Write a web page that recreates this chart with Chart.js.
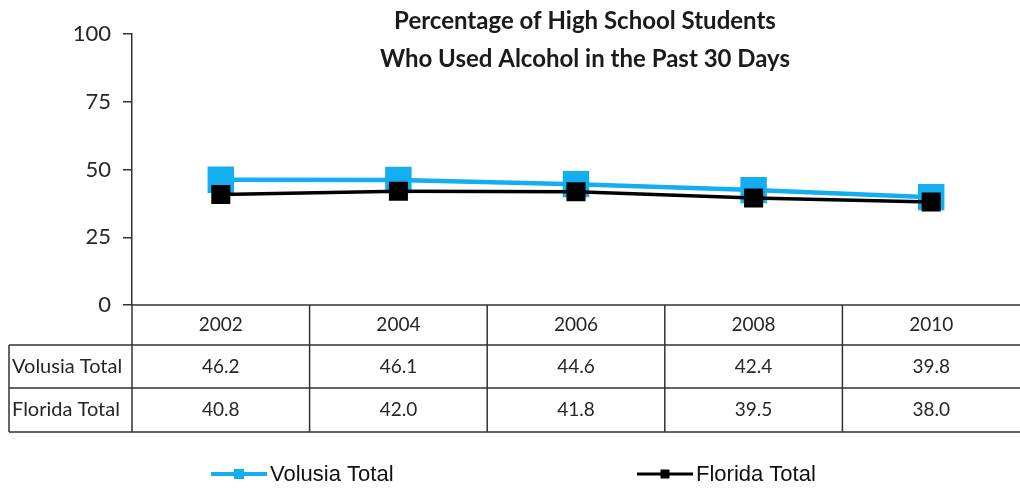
<!DOCTYPE html>
<html>
<head>
<meta charset="utf-8">
<script src="https://cdn.jsdelivr.net/npm/chart.js@4.4.1/dist/chart.umd.min.js"></script>
<style>
  html, body { margin: 0; padding: 0; background: #fff; overflow: hidden; }
  #wrap { width: 1020px; height: 491px; }
</style>
</head>
<body>
<div id="wrap"><canvas id="alcohol"></canvas></div>
<script>
// chart data
var years = ["2002", "2004", "2006", "2008", "2010"];
var volusia = [46.2, 46.1, 44.6, 42.4, 39.8];
var florida = [40.8, 42.0, 41.8, 39.5, 38.0];
var seriesNames = ["Volusia Total", "Florida Total"];
var yTicks = [0, 25, 50, 75, 100];

var blue = "#12aef0";
var black = "#000000";
var lineCol = "#333333";
var textCol = "#262626";
var tableFont = "Lato, 'Open Sans', sans-serif";
var legendFont = "'Liberation Sans Narrow', 'Liberation Sans', Arial, sans-serif";

// draws the title, the data table under the axis and the legend
var tablePlugin = {
    id: "tablePlugin",
    afterDraw: function(chart)
    {
        var ctx = chart.ctx;
        var x = chart.scales.x;
        var area = chart.chartArea;
        var top = area.bottom;
        var rows = [top, top + 40, top + 83, top + 127];
        var labelLeft = 9;
        var right = chart.width;

        ctx.save();

        // title
        ctx.fillStyle = "#1a1a1a";
        ctx.font = "bold 24px " + tableFont;
        ctx.textAlign = "center";
        ctx.textBaseline = "middle";
        ctx.fillText("Percentage of High School Students", 585, 21);
        ctx.fillText("Who Used Alcohol in the Past 30 Days", 585, 59);

        // table lines
        ctx.strokeStyle = lineCol;
        ctx.lineWidth = 1.5;
        ctx.beginPath();
        ctx.moveTo(area.left, rows[0]); ctx.lineTo(right, rows[0]);
        for (var r = 1; r < rows.length; r++)
        {
            ctx.moveTo(labelLeft, rows[r]); ctx.lineTo(right, rows[r]);
        }
        ctx.moveTo(labelLeft, rows[1]); ctx.lineTo(labelLeft, rows[3]);
        ctx.moveTo(area.left, rows[0]); ctx.lineTo(area.left, rows[3]);
        for (var i = 1; i < years.length; i++)
        {
            var bx = (x.getPixelForValue(i - 1) + x.getPixelForValue(i)) / 2;
            ctx.moveTo(bx, rows[0]); ctx.lineTo(bx, rows[3]);
        }
        ctx.stroke();

        // table text
        ctx.fillStyle = textCol;
        ctx.font = "19px " + tableFont;
        ctx.textAlign = "center";
        var tableData = [volusia, florida];
        for (var c = 0; c < years.length; c++)
        {
            var cx = x.getPixelForValue(c);
            ctx.fillText(years[c], cx, (rows[0] + rows[1]) / 2);
            for (var s = 0; s < tableData.length; s++)
            {
                ctx.fillText(tableData[s][c].toFixed(1), cx, (rows[s + 1] + rows[s + 2]) / 2);
            }
        }
        ctx.textAlign = "left";
        ctx.font = "20px " + tableFont;
        for (var s = 0; s < seriesNames.length; s++)
        {
            ctx.fillText(seriesNames[s], labelLeft + 3, (rows[s + 1] + rows[s + 2]) / 2);
        }

        // legend
        var legendY = 474;
        var items = [
            { x: 211, color: blue, width: 4, box: 10 },
            { x: 637, color: black, width: 3, box: 9 }
        ];
        ctx.font = "22px " + legendFont;
        ctx.textAlign = "left";
        for (var k = 0; k < items.length; k++)
        {
            var it = items[k];
            ctx.strokeStyle = it.color;
            ctx.fillStyle = it.color;
            ctx.lineWidth = it.width;
            ctx.beginPath();
            ctx.moveTo(it.x, legendY); ctx.lineTo(it.x + 56, legendY);
            ctx.stroke();
            ctx.fillRect(it.x + 28 - it.box / 2, legendY - it.box / 2, it.box, it.box);
            ctx.fillStyle = "#111";
            ctx.fillText(seriesNames[k], it.x + 59, legendY + 1);
        }

        ctx.restore();
    }
};

var chart = new Chart(document.getElementById("alcohol"), {
    type: "line",
    data: {
        labels: years,
        datasets: [
            {
                label: seriesNames[0],
                data: volusia,
                borderColor: blue,
                backgroundColor: blue,
                borderWidth: 4.5,
                pointStyle: "rect",
                pointRadius: 15.5,
                pointHoverRadius: 15.5,
                order: 2
            },
            {
                label: seriesNames[1],
                data: florida,
                borderColor: black,
                backgroundColor: black,
                borderWidth: 3.5,
                pointStyle: "rect",
                pointRadius: 11,
                pointHoverRadius: 11,
                order: 1
            }
        ]
    },
    options: {
        responsive: true,
        maintainAspectRatio: false,
        animation: false,
        layout: { autoPadding: false, padding: { top: 34, bottom: 186, left: 0, right: 0 } },
        plugins: {
            legend: { display: false },
            title: { display: false },
            tooltip: { enabled: false }
        },
        scales: {
            x: {
                display: true,
                offset: true,
                ticks: { display: false },
                grid: { display: false },
                border: { display: false },
                afterFit: function(scale) { scale.height = 0; }
            },
            y: {
                min: 0,
                max: 100,
                afterBuildTicks: function(scale) {
                    scale.ticks = yTicks.map(function(v) { return { value: v }; });
                },
                afterFit: function(scale) { scale.width = 132; },
                grid: { drawOnChartArea: false, drawTicks: true, tickLength: 9, color: lineCol, lineWidth: 1.5 },
                border: { color: lineCol, width: 1.5 },
                ticks: {
                    padding: 12,
                    color: textCol,
                    font: { family: tableFont, size: 22 }
                }
            }
        }
    },
    plugins: [tablePlugin]
});
</script>
</body>
</html>
